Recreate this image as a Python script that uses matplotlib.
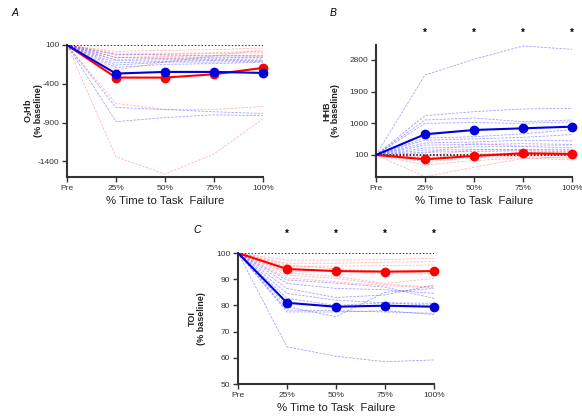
import matplotlib
matplotlib.use("Agg")
import matplotlib.pyplot as plt

plt.rcParams["font.family"] = ["Liberation Sans", "DejaVu Sans"]
plt.rcParams["axes.unicode_minus"] = False
plt.rcParams["mathtext.fontset"] = "custom"
plt.rcParams["mathtext.rm"] = "Liberation Sans:bold"
plt.rcParams["mathtext.bf"] = "Liberation Sans:bold"
plt.rcParams["mathtext.default"] = "bf"

TIME_LABELS = ["Pre", "25%", "50%", "75%", "100%"]
X = [0, 1, 2, 3, 4]

# Panel A: O2Hb (% baseline)
O2HB_RED = [
    [100, 18, 30, 40, 61],
    [100, -4, -10, 0, 20],
    [100, -30, -20, -10, 0],
    [100, -60, -50, -40, -30],
    [100, -90, -70, -60, -50],
    [100, -221, -120, -40, 39],
    [100, -653, -731, -731, -692],
    [100, -1341, -1562, -1303, -850],
]
O2HB_BLUE = [
    [100, -20, -30, -40, -40],
    [100, -60, -70, -70, -60],
    [100, -100, -90, -90, -80],
    [100, -130, -110, -100, -100],
    [100, -160, -120, -120, -110],
    [100, -190, -150, -140, -120],
    [100, -705, -731, -760, -783],
    [100, -887, -835, -800, -810],
]
O2HB_RED_MEAN = [100, -320, -320, -277, -195]
O2HB_BLUE_MEAN = [100, -268, -247, -247, -260]

# Panel B: HHB (% baseline)
HHB_RED = [
    [100, -516, -250, 0, 50],
    [100, -184, -60, 20, -42],
    [100, -90, 20, 60, 0],
    [100, 6, 150, 120, 100],
    [100, 60, 250, 240, 242],
    [100, 150, 432, 350, 380],
    [100, 30, 100, 180, 160],
    [100, -40, 60, 100, 80],
]
HHB_BLUE = [
    [100, 2372, 2818, 3196, 3102],
    [100, 1216, 1330, 1406, 1426],
    [100, 1094, 1150, 1046, 1094],
    [100, 1000, 1020, 1000, 1040],
    [100, 580, 620, 700, 820],
    [100, 520, 560, 600, 680],
    [100, 440, 470, 520, 500],
    [100, 380, 400, 420, 400],
    [100, 300, 330, 340, 300],
    [100, 240, 250, 260, 240],
    [100, 180, 200, 220, 190],
]
HHB_RED_MEAN = [100, -22, 72, 148, 128]
HHB_BLUE_MEAN = [100, 688, 810, 858, 904]

# Panel C: TOI (% baseline)
TOI_RED = [
    [100, 97.3, 97.3, 97.5, 98.0],
    [100, 96.1, 96.1, 96.5, 96.7],
    [100, 94.8, 95.0, 95.2, 95.4],
    [100, 93.0, 93.5, 92.0, 93.0],
    [100, 92.5, 91.0, 88.4, 90.3],
    [100, 91.6, 90.3, 88.0, 87.1],
    [100, 90.5, 89.0, 87.5, 86.8],
    [100, 95.5, 94.0, 93.0, 92.0],
]
TOI_BLUE = [
    [100, 89.7, 88.5, 87.0, 82.7],
    [100, 88.4, 86.5, 86.0, 84.6],
    [100, 86.5, 83.0, 84.0, 87.8],
    [100, 84.6, 82.0, 81.0, 80.8],
    [100, 82.7, 80.0, 81.0, 80.0],
    [100, 79.5, 75.7, 85.0, 86.5],
    [100, 78.2, 78.0, 77.5, 77.0],
    [100, 77.5, 77.5, 78.0, 76.5],
    [100, 64.2, 60.6, 58.5, 59.2],
]
TOI_RED_MEAN = [100, 93.9, 93.1, 92.9, 93.1]
TOI_BLUE_MEAN = [100, 81.0, 79.5, 79.9, 79.5]

SPINE = "#333333"


def draw_panel(ax, red, blue, red_mean, blue_mean, ylim, yticks, ylabel,
               label_x, star_y=None):
    for s in red:
        ax.plot(X, s, color="#ff3030", alpha=0.35, lw=0.6, ls=(0, (3, 1.5)))
    for s in blue:
        ax.plot(X, s, color="#3030ff", alpha=0.45, lw=0.6, ls=(0, (3, 1.5)))
    ax.plot([0, 4], [100, 100], color="black", lw=1.1, ls=(0, (1, 1.2)), zorder=3)
    ax.plot(X[1:], red_mean[1:], color="#ff0000", lw=1.5, marker="o", ms=6,
            zorder=4, clip_on=False)
    ax.plot(X[:2], red_mean[:2], color="#ff0000", lw=1.5, zorder=4)
    ax.plot(X[1:], blue_mean[1:], color="#0000dd", lw=1.5, marker="o", ms=6,
            zorder=5, clip_on=False)
    ax.plot(X[:2], blue_mean[:2], color="#0000dd", lw=1.5, zorder=5)

    ax.set_xlim(0, 4)
    ax.set_ylim(*ylim)
    ax.set_xticks(X)
    ax.set_xticklabels(TIME_LABELS)
    ax.set_yticks(yticks)
    for side in ("top", "right"):
        ax.spines[side].set_visible(False)
    for side in ("left", "bottom"):
        ax.spines[side].set_color(SPINE)
        ax.spines[side].set_linewidth(1.5)
    ax.tick_params(colors=SPINE, labelsize=6, length=3.5, width=1, pad=2)
    ax.set_xlabel("% Time to Task  Failure", fontsize=8.2, color="#222222", labelpad=3)
    ax.set_ylabel(ylabel, fontsize=6.5, fontweight="bold", color="#222222",
                  va="center", linespacing=0.95)
    ax.yaxis.set_label_coords(label_x, 0.5)
    if star_y is not None:
        for x in X[1:]:
            ax.text(x, star_y, "*", transform=ax.get_xaxis_transform(),
                    ha="center", va="center", fontsize=7, fontweight="bold")


fig = plt.figure(figsize=(5.82, 4.18), dpi=100)
ax_a = fig.add_axes([0.1151, 0.5766, 0.3368, 0.3158])
ax_b = fig.add_axes([0.6460, 0.5766, 0.3368, 0.3158])
ax_c = fig.add_axes([0.4089, 0.0813, 0.3368, 0.3134])

draw_panel(ax_a, O2HB_RED, O2HB_BLUE, O2HB_RED_MEAN, O2HB_BLUE_MEAN,
           (-1600, 100), [100, -400, -900, -1400], "O$_2$Hb\n(% baseline)", -0.175)
draw_panel(ax_b, HHB_RED, HHB_BLUE, HHB_RED_MEAN, HHB_BLUE_MEAN,
           (-525, 3225), [100, 1000, 1900, 2800], "HHB\n(% baseline)", -0.23,
           star_y=1.09)
draw_panel(ax_c, TOI_RED, TOI_BLUE, TOI_RED_MEAN, TOI_BLUE_MEAN,
           (50, 100), [50, 60, 70, 80, 90, 100], "TOI\n(% baseline)", -0.21,
           star_y=1.15)

fig.text(15 / 582, 1 - 13 / 418, "A", fontsize=7.5, style="italic", ha="center", va="center")
fig.text(333 / 582, 1 - 13 / 418, "B", fontsize=7.5, style="italic", ha="center", va="center")
fig.text(197 / 582, 1 - 230 / 418, "C", fontsize=7.5, style="italic", ha="center", va="center")

fig.savefig("out.png", dpi=100)
